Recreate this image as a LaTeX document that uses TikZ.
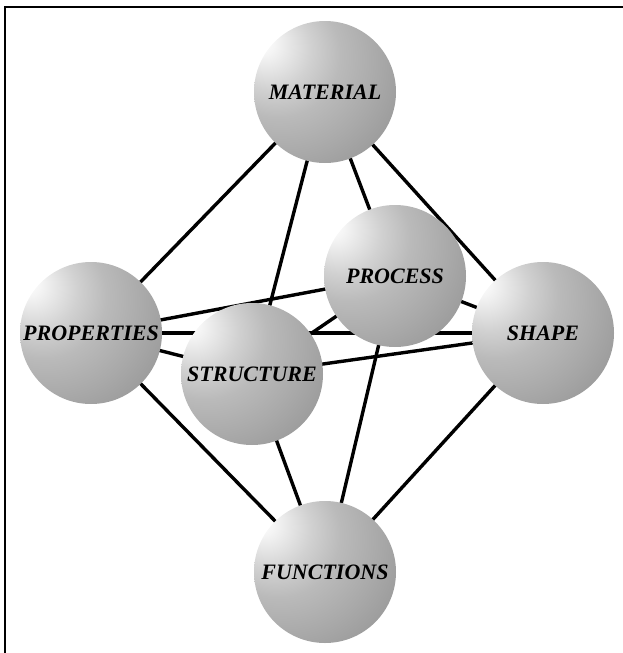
\documentclass[tikz,border=0pt]{standalone}
\usepackage{fontspec}
\setmainfont{Liberation Serif}
\usetikzlibrary{backgrounds}
\pgfdeclareradialshading{spherebg}{\pgfpoint{-23bp}{18bp}}{%
  color(0bp)=(white);
  color(4bp)=(white!96!black);
  color(14bp)=(white!82!black);
  color(22bp)=(white!73!black);
  color(33bp)=(white!66!black);
  color(45bp)=(white!58!black);
  color(58bp)=(white!50!black);
  color(80bp)=(white!48!black)}
\tikzset{
  ball/.style={circle, minimum size=142pt, inner sep=0pt, shading=spherebg,
    font=\fontsize{22}{22}\selectfont\bfseries\itshape, text=black},
  link/.style={line width=3.4pt, black},
  frame/.style={line width=2pt, black}
}
\begin{document}
\begin{tikzpicture}[x=1pt,y=-1pt]
\useasboundingbox (0,0) rectangle (623,653);
\draw[frame] (5,653) -- (5,6.5) -- (623,6.5);
\node[ball] (mat) at (325,92) {MATERIAL};
\node[ball] (prc) at (395,276) {PROCESS};
\node[ball] (prp) at (91,333) {PROPERTIES};
\node[ball] (shp) at (543,333) {SHAPE};
\node[ball] (str) at (252,374) {STRUCTURE};
\node[ball] (fun) at (325,572) {FUNCTIONS};
\begin{pgfonlayer}{background}
\draw[link] (mat.center) -- (prp.center);
\draw[link] (mat.center) -- (str.center);
\draw[link] (mat.center) -- (prc.center);
\draw[link] (mat.center) -- (shp.center);
\draw[link] (fun.center) -- (prp.center);
\draw[link] (fun.center) -- (str.center);
\draw[link] (fun.center) -- (prc.center);
\draw[link] (fun.center) -- (shp.center);
\draw[link] (prp.center) -- (prc.center);
\draw[link] (prp.center) -- (shp.center);
\draw[link] (prp.center) -- (str.center);
\draw[link] (str.center) -- (prc.center);
\draw[link] (str.center) -- (shp.center);
\draw[link] (prc.center) -- (shp.center);
\end{pgfonlayer}
\end{tikzpicture}
\end{document}
